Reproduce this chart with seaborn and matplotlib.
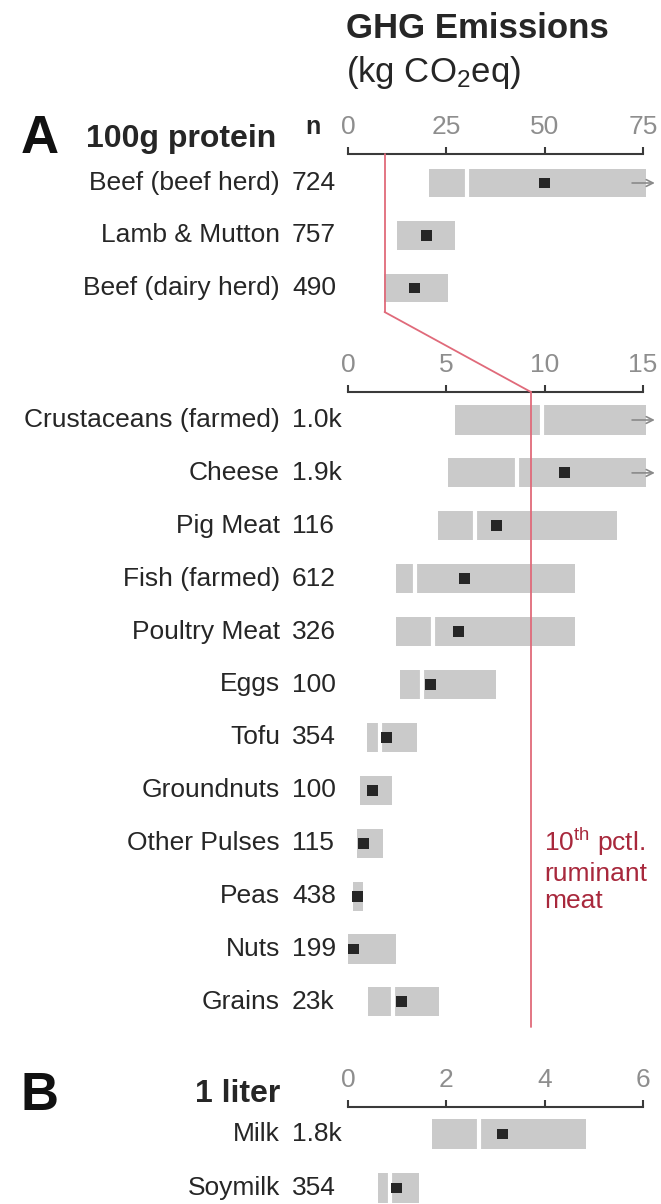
import numpy as np
import matplotlib
matplotlib.use("Agg")
import matplotlib.pyplot as plt
import seaborn as sns
from matplotlib.patches import ConnectionPatch

# ---------------- data ----------------
# Panel A, top (ruminant meats), kg CO2eq per 100 g protein
cats_a1 = ["Beef (beef herd)", "Lamb & Mutton", "Beef (dairy herd)"]
n_a1 = ["724", "757", "490"]
lo_a1 = [20.6, 12.4, 9.1]
hi_a1 = [75.8, 27.2, 25.4]
mean_a1 = [30.3, np.nan, np.nan]          # white gap (not visible where hidden)
med_a1 = [50.0, 20.0, 17.0]
beyond_a1 = [True, False, False]

# Panel A, bottom (other protein sources)
cats_a2 = ["Crustaceans (farmed)", "Cheese", "Pig Meat", "Fish (farmed)",
           "Poultry Meat", "Eggs", "Tofu", "Groundnuts", "Other Pulses",
           "Peas", "Nuts", "Grains"]
n_a2 = ["1.0k", "1.9k", "116", "612", "326", "100", "354", "100", "115",
        "438", "199", "23k"]
lo_a2 = [5.42, 5.06, 4.56, 2.46, 2.42, 2.64, 0.95, 0.61, 0.44, 0.27, 0.02, 1.03]
hi_a2 = [15.15, 15.15, 13.67, 11.53, 11.53, 7.50, 3.50, 2.22, 1.78, 0.74, 2.45, 4.61]
mean_a2 = [9.86, 8.59, 6.45, 3.39, 4.31, 3.75, 1.63, np.nan, np.nan, np.nan,
           np.nan, 2.31]
med_a2 = [np.nan, 10.99, 7.56, 5.91, 5.64, 4.18, 1.98, 1.26, 0.77, 0.48, 0.30, 2.74]
beyond_a2 = [True, True, False, False, False, False, False, False, False,
             False, False, False]

# Panel B, kg CO2eq per liter
cats_b = ["Milk", "Soymilk"]
n_b = ["1.8k", "354"]
lo_b = [1.70, 0.61]
hi_b = [4.84, 1.44]
mean_b = [2.67, 0.85]
med_b = [3.15, 0.99]
beyond_b = [False, False]

ticks_a1 = [0, 25, 50, 75]
ticks_a2 = [0, 5, 10, 15]
ticks_b = [0, 2, 4, 6]

threshold = 9.3  # 10th percentile ruminant meat

# ---------------- style ----------------
sns.set_theme(style="white")
plt.rcParams["font.family"] = ["Liberation Sans", "DejaVu Sans"]
plt.rcParams["mathtext.default"] = "regular"

W, H = 661, 1204
fig = plt.figure(figsize=(W / 100, H / 100), dpi=100)

BAR = "#cacaca"
DOT = "#262626"
TXT = "#262626"
TICKTXT = "#8e8e8e"
SPINE = "#3a3a3a"
RED_LINE = "#e06a7a"
RED_TXT = "#a8283c"
FS = 19

AX_L, AX_R = 348, 643


def make_axes(top_px, bottom_px):
    return fig.add_axes([AX_L / W, 1 - bottom_px / H, (AX_R - AX_L) / W,
                         (bottom_px - top_px) / H])


def panel(ax, cats, ns, lo, hi, mean, med, beyond, xmax, ticks,
          row0_px, step_px, top_px, bottom_px):
    y = np.arange(len(cats))
    lo = np.asarray(lo, float)
    hi = np.asarray(hi, float)
    h = 0.55
    ax.barh(y, hi - lo, left=lo, height=h, color=BAR, edgecolor="none",
            clip_on=False, zorder=1)
    ax.vlines(mean, y - h / 2, y + h / 2, colors="white", lw=3.0, zorder=2,
              clip_on=False)
    sns.scatterplot(x=med, y=y, marker="s", s=62, color=DOT, edgecolor="none",
                    ax=ax, zorder=3, legend=False, clip_on=False)
    for yi, b in zip(y, beyond):
        if b:
            ax.annotate("", xy=(xmax * 1.04, yi), xytext=(xmax * 0.963, yi),
                        arrowprops=dict(arrowstyle="->", color="#8a8a8a",
                                        lw=1.2, shrinkA=0, shrinkB=0),
                        annotation_clip=False, zorder=4)
    ax.set_xlim(0, xmax)
    ax.set_ylim((bottom_px - row0_px) / step_px, -(row0_px - top_px) / step_px)
    ax.set_xticks(ticks)
    ax.set_xticklabels([str(t) for t in ticks])
    ax.set_yticks([])
    ax.set_xlabel("")
    ax.set_ylabel("")
    ax.xaxis.tick_top()
    for s in ["left", "right", "bottom"]:
        ax.spines[s].set_visible(False)
    ax.spines["top"].set_visible(True)
    ax.spines["top"].set_color(SPINE)
    ax.spines["top"].set_linewidth(1.5)
    ax.tick_params(axis="x", direction="out", length=5, width=1.5,
                   color=SPINE, labelcolor=TICKTXT, labelsize=FS, pad=6,
                   top=True, bottom=False)
    ax.set_facecolor("none")
    tr = ax.get_yaxis_transform()
    span = AX_R - AX_L
    for yi, c, n in zip(y, cats, ns):
        ax.text((280 - AX_L) / span, yi, c, transform=tr, ha="right",
                va="center", fontsize=FS, color=TXT)
        ax.text((292 - AX_L) / span, yi, n, transform=tr, ha="left",
                va="center", fontsize=FS, color=TXT)


ax1 = make_axes(154, 312)
panel(ax1, cats_a1, n_a1, lo_a1, hi_a1, mean_a1, med_a1, beyond_a1, 75,
      ticks_a1, 183, 52.5, 154, 312)

ax2 = make_axes(392, 1027)
panel(ax2, cats_a2, n_a2, lo_a2, hi_a2, mean_a2, med_a2, beyond_a2, 15,
      ticks_a2, 420, 52.9, 392, 1027)

ax3 = make_axes(1107, 1204)
panel(ax3, cats_b, n_b, lo_b, hi_b, mean_b, med_b, beyond_b, 6,
      ticks_b, 1134, 54, 1107, 1204)

# threshold line spanning both parts of panel A
ax1.plot([threshold, threshold], [0, 1], transform=ax1.get_xaxis_transform(),
         color=RED_LINE, lw=1.3, clip_on=False, zorder=5)
ax2.plot([threshold, threshold], [0, 1], transform=ax2.get_xaxis_transform(),
         color=RED_LINE, lw=1.3, clip_on=False, zorder=5)
con = ConnectionPatch(xyA=(threshold, 0), coordsA=ax1.get_xaxis_transform(),
                      xyB=(threshold, 1), coordsB=ax2.get_xaxis_transform(),
                      color=RED_LINE, lw=1.3)
fig.add_artist(con)
ax2.text(threshold + 0.68, 8.5, "10$^{th}$ pctl.\nruminant\nmeat",
         ha="left", va="center", fontsize=FS, color=RED_TXT, linespacing=1.2)

# headers
fig.text(346 / W, 1 - 38 / H, "GHG Emissions", fontsize=25, fontweight="bold",
         color=TXT, ha="left", va="baseline")
fig.text(346 / W, 1 - 82 / H, "(kg CO$_2$eq)", fontsize=25, color=TXT,
         ha="left", va="baseline")
fig.text(21 / W, 1 - 153 / H, "A", fontsize=38, fontweight="bold", color="#111",
         ha="left", va="baseline")
fig.text(86 / W, 1 - 147 / H, "100g protein", fontsize=23, fontweight="bold",
         color=TXT, ha="left", va="baseline")
fig.text(305 / W, 1 - 134 / H, "n", fontsize=18, fontweight="bold", color=TXT,
         ha="left", va="baseline")
fig.text(21 / W, 1 - 1110 / H, "B", fontsize=38, fontweight="bold", color="#111",
         ha="left", va="baseline")
fig.text(280 / W, 1 - 1102 / H, "1 liter", fontsize=23, fontweight="bold",
         color=TXT, ha="right", va="baseline")

fig.savefig("out.png", dpi=100, facecolor="white")
